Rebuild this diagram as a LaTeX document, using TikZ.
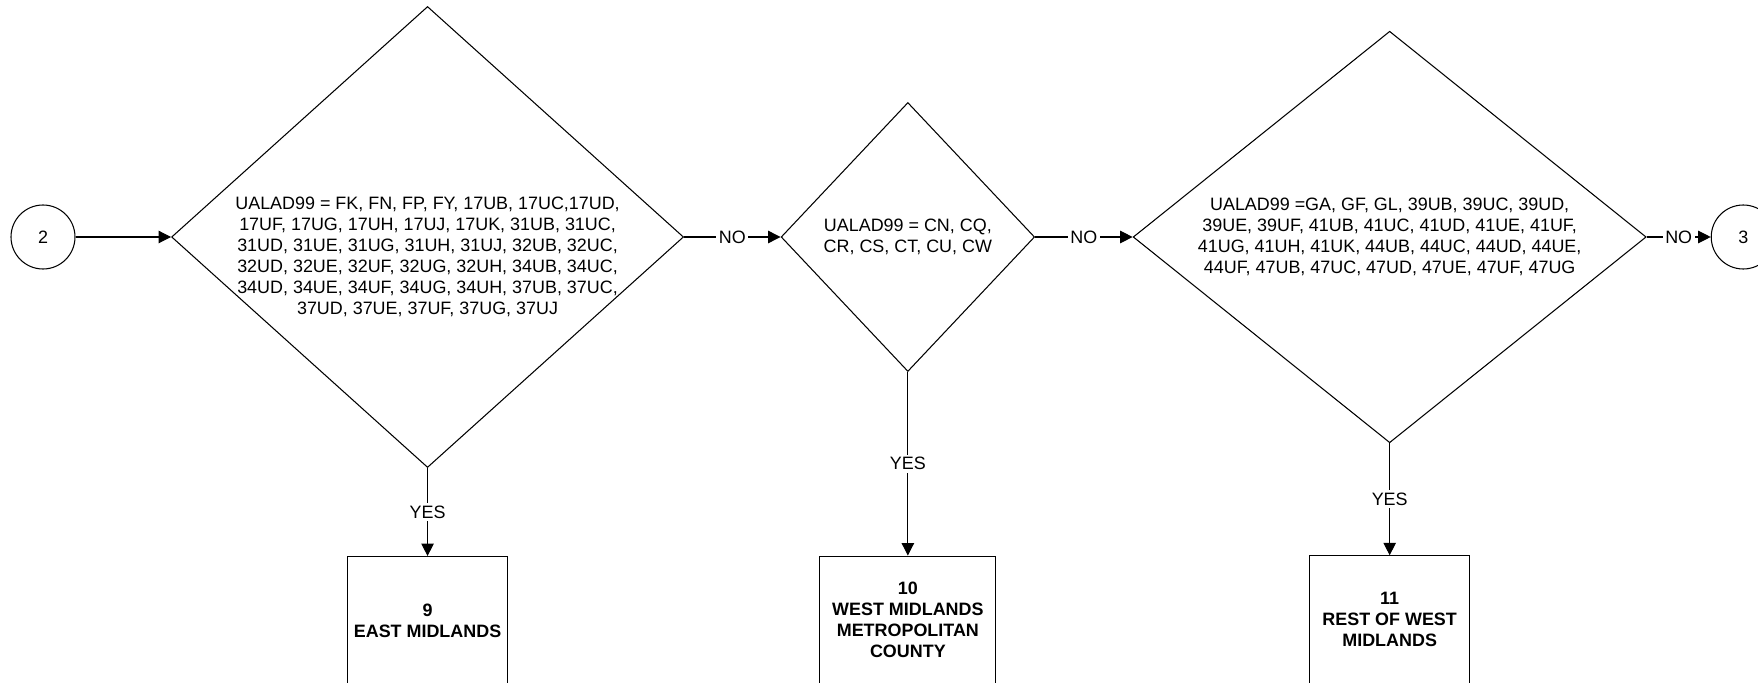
\documentclass[tikz,border=0pt]{standalone}
\usepackage{fontspec}
\setmainfont{Liberation Sans}
\usetikzlibrary{shapes.geometric,arrows.meta,positioning}
\tikzset{
  basebox/.style={draw=black,line width=0.6pt,align=center,
                  font=\fontsize{10.2}{12}\selectfont},
  connnode/.style={basebox,circle,minimum size=1.28cm,inner sep=0pt},
  decnode/.style={basebox,diamond,inner sep=0pt},
  dectext/.style={draw=none,fill=none,rectangle,minimum size=0pt,inner sep=0pt,
                  align=center,font=\fontsize{10.2}{12}\selectfont},
  regnode/.style={basebox,rectangle,minimum height=2.56cm,
                  font=\fontsize{10.2}{12}\selectfont\bfseries},
  arr/.style={-{Triangle[length=0.25cm,width=0.25cm]},line width=0.6pt},
  lbl/.style={fill=white,inner sep=1.5pt,font=\fontsize{10.2}{12}\selectfont}
}

\begin{document}
\begin{tikzpicture}[node distance=1.93cm]
  \useasboundingbox (0,0) rectangle (35.16,-13.66);

  % off-page connector in
  \node[connnode] (c2) at (0.86,-4.74) {2};

  % decisions
  \node[decnode,minimum width=10.24cm,minimum height=9.22cm,right=1.91cm of c2,
        label={[dectext,yshift=-0.4cm]center:{UALAD99 = FK, FN, FP, FY, 17UB, 17UC,17UD,\\
          17UF, 17UG, 17UH, 17UJ, 17UK, 31UB, 31UC,\\
          31UD, 31UE, 31UG, 31UH, 31UJ, 32UB, 32UC,\\
          32UD, 32UE, 32UF, 32UG, 32UH, 34UB, 34UC,\\
          34UD, 34UE, 34UF, 34UG, 34UH, 37UB, 37UC,\\
          37UD, 37UE, 37UF, 37UG, 37UJ}}] (d1) {};
  \node[decnode,minimum width=5.07cm,minimum height=5.38cm,right=1.93cm of d1,
        label={[dectext]center:{UALAD99 = CN, CQ,\\CR, CS, CT, CU, CW}}] (d2) {};
  \node[decnode,minimum width=10.26cm,minimum height=8.23cm,right=1.95cm of d2,
        label={[dectext]center:{UALAD99 =GA, GF, GL, 39UB, 39UC, 39UD,\\
          39UE, 39UF, 41UB, 41UC, 41UD, 41UE, 41UF,\\
          41UG, 41UH, 41UK, 44UB, 44UC, 44UD, 44UE,\\
          44UF, 47UB, 47UC, 47UD, 47UE, 47UF, 47UG}}] (d3) {};

  % off-page connector out
  \node[connnode,right=1.28cm of d3] (c3) {3};

  % regions
  \node[regnode,minimum width=3.2cm,below=1.76cm of d1] (r9)
      {9\\EAST MIDLANDS};
  \node[regnode,minimum width=3.52cm,below=3.67cm of d2] (r10)
      {10\\WEST MIDLANDS\\METROPOLITAN\\COUNTY};
  \node[regnode,minimum width=3.2cm,below=2.24cm of d3] (r11)
      {11\\REST OF WEST\\MIDLANDS};

  \draw[arr] (c2) -- (d1);
  \draw[arr] (d1) -- node[lbl]{NO} (d2);
  \draw[arr] (d2) -- node[lbl]{NO} (d3);
  \draw[arr] (d3) -- node[lbl]{NO} (c3);
  \draw[arr] (d1) -- node[lbl]{YES} (r9);
  \draw[arr] (d2) -- node[lbl]{YES} (r10);
  \draw[arr] (d3) -- node[lbl]{YES} (r11);

\end{tikzpicture}
\end{document}
